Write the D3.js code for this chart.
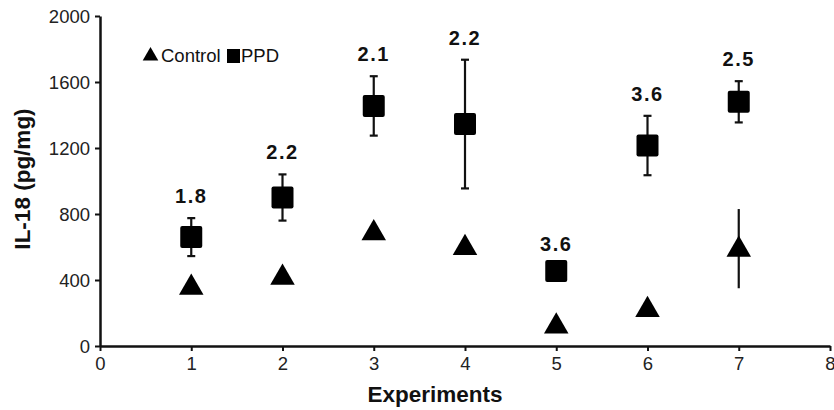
<!DOCTYPE html>
<html>
<head>
<meta charset="utf-8">
<script src="https://cdn.jsdelivr.net/npm/d3@7"></script>
<style>
  body { margin: 0; background: #fff; }
  svg { font-family: "Liberation Sans", Arial, sans-serif; }
</style>
</head>
<body>
<div id="chart"></div>
<script>
// data
const experiments = [1, 2, 3, 4, 5, 6, 7];
const ppd = [660, 900, 1455, 1345, 455, 1215, 1480];
const ppdErr = [115, 140, 180, 390, 30, 180, 125];
const control = [360, 420, 690, 600, 125, 225, 590];
const controlErr = [0, 0, 0, 0, 0, 0, 240];
const ratios = ["1.8", "2.2", "2.1", "2.2", "3.6", "3.6", "2.5"];
const xTicks = [0, 1, 2, 3, 4, 5, 6, 7, 8];
const yTicks = [0, 400, 800, 1200, 1600, 2000];

const width = 834, height = 410;
const margin = { top: 16, right: 4, bottom: 64, left: 100 };

const svg = d3.select("#chart").append("svg")
  .attr("width", width)
  .attr("height", height);

const x = d3.scaleLinear().domain([0, 8]).range([margin.left, 830]);
const y = d3.scaleLinear().domain([0, 2000]).range([346, margin.top]);

// axes
const yAxis = svg.append("g")
  .attr("transform", "translate(" + margin.left + ",0)")
  .call(d3.axisLeft(y).tickValues(yTicks).tickFormat(d3.format("d"))
    .tickSize(5).tickSizeOuter(0).tickPadding(5));
const xAxis = svg.append("g")
  .attr("transform", "translate(0," + y(0) + ")")
  .call(d3.axisBottom(x).tickValues(xTicks).tickSize(5).tickSizeOuter(0).tickPadding(6));

[xAxis, yAxis].forEach(function (g) {
  g.select(".domain").attr("stroke", "#111").attr("stroke-width", 2.5);
  g.selectAll(".tick line").attr("stroke", "#111").attr("stroke-width", 2);
  g.selectAll(".tick text")
    .attr("fill", "#222")
    .style("font-size", "18.5px")
    .style("font-family", "Liberation Sans, Arial, sans-serif");
});
yAxis.selectAll(".tick text").attr("dy", "0.36em");

// axis titles
svg.append("text")
  .attr("transform", "translate(" + 30 + "," + 179 + ") rotate(-90)")
  .attr("text-anchor", "middle")
  .style("font-size", "22.5px")
  .style("font-weight", "bold")
  .attr("fill", "#111")
  .text("IL-18 (pg/mg)");

svg.append("text")
  .attr("x", 435)
  .attr("y", 402)
  .attr("text-anchor", "middle")
  .style("font-size", "22.5px")
  .style("font-weight", "bold")
  .attr("fill", "#111")
  .text("Experiments");

const rows = experiments.map(function (e, i) {
  return { e: e, ppd: ppd[i], pe: ppdErr[i], ctl: control[i], ce: controlErr[i], r: ratios[i] };
});

// error bars
function errorBars(key, errKey, cap) {
  const g = svg.append("g").attr("stroke", "#111").attr("stroke-width", 2.2);
  const data = rows.filter(function (d) { return d[errKey] > 0; });
  g.selectAll("line.v").data(data).enter().append("line")
    .attr("x1", d => x(d.e)).attr("x2", d => x(d.e))
    .attr("y1", d => y(d[key] + d[errKey]))
    .attr("y2", d => y(d[key] - d[errKey]));
  if (cap) {
    [1, -1].forEach(function (s) {
      g.selectAll("line.c" + s).data(data).enter().append("line")
        .attr("x1", d => x(d.e) - 4).attr("x2", d => x(d.e) + 4)
        .attr("y1", d => y(d[key] + s * d[errKey]))
        .attr("y2", d => y(d[key] + s * d[errKey]));
    });
  }
}
errorBars("ppd", "pe", true);
errorBars("ctl", "ce", false);

// markers
const tri = d3.symbol().type(d3.symbolTriangle).size(260);
svg.append("g").selectAll("path").data(rows).enter().append("path")
  .attr("d", tri)
  .attr("transform", d => "translate(" + x(d.e) + "," + (y(d.ctl) + 1) + ")")
  .attr("fill", "#000");

svg.append("g").selectAll("rect").data(rows).enter().append("rect")
  .attr("x", d => x(d.e) - 11)
  .attr("y", d => y(d.ppd) - 11)
  .attr("width", 22)
  .attr("height", 22)
  .attr("rx", 2)
  .attr("fill", "#000");

// fold-change labels
svg.append("g").selectAll("text").data(rows).enter().append("text")
  .attr("x", d => x(d.e))
  .attr("y", d => y(d.ppd + d.pe) - 15)
  .attr("text-anchor", "middle")
  .style("font-size", "20px")
  .style("font-weight", "bold")
  .style("letter-spacing", "1.5px")
  .attr("fill", "#111")
  .text(d => d.r);

// legend
const legend = svg.append("g").attr("transform", "translate(143,56)");
legend.append("path")
  .attr("d", d3.symbol().type(d3.symbolTriangle).size(105))
  .attr("transform", "translate(7.5,0)")
  .attr("fill", "#000");
legend.append("text")
  .attr("x", 18).attr("y", 6)
  .style("font-size", "18.5px")
  .attr("fill", "#111")
  .text("Control");
legend.append("rect")
  .attr("x", 84).attr("y", -7).attr("width", 13).attr("height", 14)
  .attr("fill", "#000");
legend.append("text")
  .attr("x", 98).attr("y", 6)
  .style("font-size", "18.5px")
  .attr("fill", "#111")
  .text("PPD");
</script>
</body>
</html>
